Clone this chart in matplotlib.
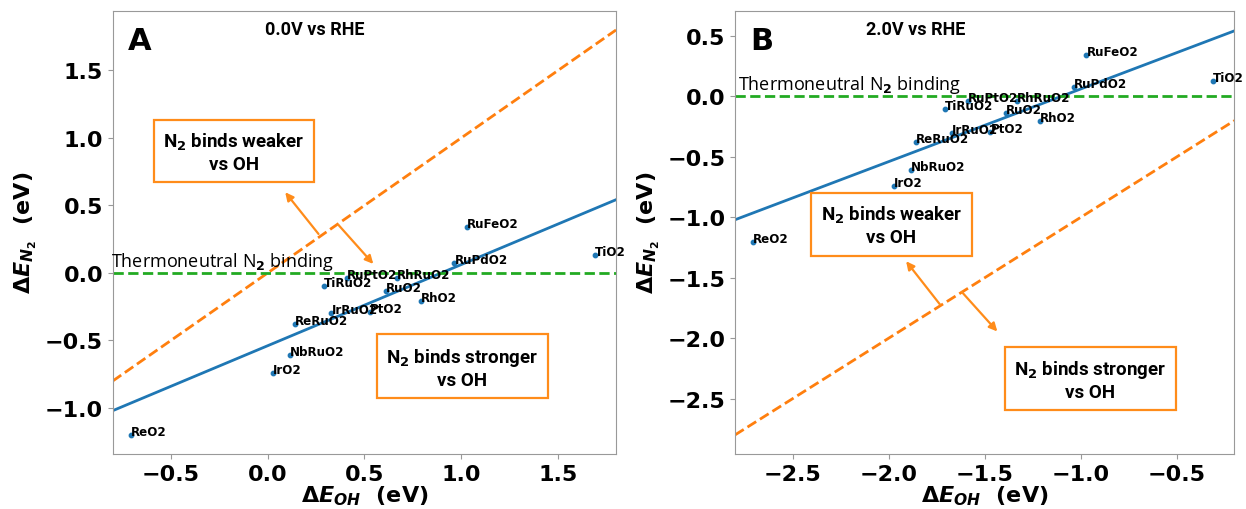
import matplotlib
matplotlib.use('Agg')
import matplotlib.pyplot as plt
import numpy as np

# ---------------- data ----------------
materials = ['RuFeO2', 'TiO2', 'RuPdO2', 'RhRuO2', 'RuPtO2', 'TiRuO2', 'RuO2',
             'RhO2', 'IrRuO2', 'PtO2', 'ReRuO2', 'NbRuO2', 'IrO2', 'ReO2']
dE_OH_0V = [1.03, 1.69, 0.965, 0.667, 0.412, 0.293, 0.61,
            0.79, 0.33, 0.53, 0.142, 0.116, 0.028, -0.707]
dE_OH_2V = [-0.97, -0.31, -1.035, -1.333, -1.588, -1.707, -1.39,
            -1.21, -1.67, -1.47, -1.858, -1.884, -1.972, -2.707]
dE_N2 = [0.34, 0.13, 0.075, -0.037, -0.040, -0.10, -0.135,
         -0.206, -0.299, -0.29, -0.375, -0.608, -0.743, -1.20]

fit_slope = 0.601
fit_intercept_0V = -0.539
fit_intercept_2V = 0.663

panel_letters = ['A', 'B']
panel_titles = ['0.0V vs RHE', '2.0V vs RHE']
xlims = [(-0.8, 1.8), (-2.8, -0.2)]
ylims = [(-1.341, 1.943), (-2.958, 0.71)]
xticks = [[-0.5, 0.0, 0.5, 1.0, 1.5], [-2.5, -2.0, -1.5, -1.0, -0.5]]
yticks = [[-1.0, -0.5, 0.0, 0.5, 1.0, 1.5], [-2.5, -2.0, -1.5, -1.0, -0.5, 0.0, 0.5]]

# ---------------- style ----------------
plt.rcParams['font.family'] = ['DejaVu Sans']
plt.rcParams['font.weight'] = 'bold'
plt.rcParams['axes.labelweight'] = 'bold'
plt.rcParams['mathtext.fontset'] = 'custom'
plt.rcParams['mathtext.rm'] = 'DejaVu Sans:bold'
plt.rcParams['mathtext.bf'] = 'DejaVu Sans:bold'
plt.rcParams['mathtext.it'] = 'DejaVu Sans:italic:bold'

BLUE = '#1f77b4'
ORANGE = '#ff7f0e'
BOX_ORANGE = '#ff8c1a'
GREEN = '#22aa22'
SPINE = '#999999'

fig = plt.figure(figsize=(12.46, 5.10), dpi=100)
axA = fig.add_axes([0.0905, 0.1078, 0.4039, 0.8693])
axB = fig.add_axes([0.5899, 0.1078, 0.4007, 0.8693])
axes = [axA, axB]
xdata = [dE_OH_0V, dE_OH_2V]
intercepts = [fit_intercept_0V, fit_intercept_2V]

ann_font = dict(family=['Roboto', 'DejaVu Sans'], weight='bold')

for i, ax in enumerate(axes):
    xl = np.array(xlims[i])
    ax.plot(xl, xl, '--', color=ORANGE, lw=2, zorder=2)
    ax.plot(xl, fit_slope * xl + intercepts[i], '-', color=BLUE, lw=2, zorder=2)
    ax.axhline(0.0, ls='--', color=GREEN, lw=2, zorder=2)
    ax.scatter(xdata[i], dE_N2, s=10, color=BLUE, zorder=3)
    for name, x, y in zip(materials, xdata[i], dE_N2):
        ax.text(x, y, name, fontsize=8.6, fontweight='bold', zorder=4)
    ax.set_xlim(*xlims[i])
    ax.set_ylim(*ylims[i])
    ax.set_xticks(xticks[i])
    ax.set_yticks(yticks[i])
    ax.tick_params(labelsize=16, color=SPINE, length=3.5)
    for s in ax.spines.values():
        s.set_color(SPINE)
    ax.set_xlabel(r'$\Delta E_{OH}$  (eV)', fontsize=16, labelpad=0)
    ax.set_ylabel(r'$\Delta E_{N_2}$  (eV)', fontsize=16)
    ax.text(0.03, 0.965, panel_letters[i], transform=ax.transAxes, fontsize=22,
            fontweight='bold', va='top', ha='left')

# titles
axA.text(0.303, 0.958, panel_titles[0], transform=axA.transAxes, fontsize=13,
         va='center', ha='left', **ann_font)
axB.text(0.262, 0.958, panel_titles[1], transform=axB.transAxes, fontsize=13,
         va='center', ha='left', **ann_font)

# thermoneutral labels
axA.text(-0.81, 0.055, r'Thermoneutral N$_2$ binding', fontsize=13,
         family='Open Sans', weight='normal', ha='left', va='baseline')
axB.text(-2.783, 0.063, r'Thermoneutral N$_2$ binding', fontsize=13,
         family='Open Sans', weight='normal', ha='left', va='baseline')

box = dict(boxstyle='square,pad=0.5', fc='white', ec=BOX_ORANGE, lw=1.6)
tkw = dict(fontsize=13.5, ha='center', va='center', bbox=box, zorder=5,
           linespacing=1.2, **ann_font)
# Panel A boxes (data coordinates)
axA.text(-0.174, 0.898, 'N$_2$ binds weaker\nvs OH', **tkw)
axA.text(1.007, -0.698, 'N$_2$ binds stronger\nvs OH', **tkw)
# Panel B boxes
axB.text(-1.985, -1.065, 'N$_2$ binds weaker\nvs OH', **tkw)
axB.text(-0.950, -2.341, 'N$_2$ binds stronger\nvs OH', **tkw)

arrow = dict(arrowstyle='-|>', color=BOX_ORANGE, lw=1.6, mutation_scale=12,
             shrinkA=0, shrinkB=0)
axA.annotate('', xy=(0.091, 0.598), xytext=(0.263, 0.289), arrowprops=arrow)
axA.annotate('', xy=(0.546, 0.067), xytext=(0.366, 0.356), arrowprops=arrow)
axB.annotate('', xy=(-1.909, -1.363), xytext=(-1.732, -1.722), arrowprops=arrow)
axB.annotate('', xy=(-1.434, -1.944), xytext=(-1.619, -1.617), arrowprops=arrow)

fig.savefig('out.png', dpi=100)
